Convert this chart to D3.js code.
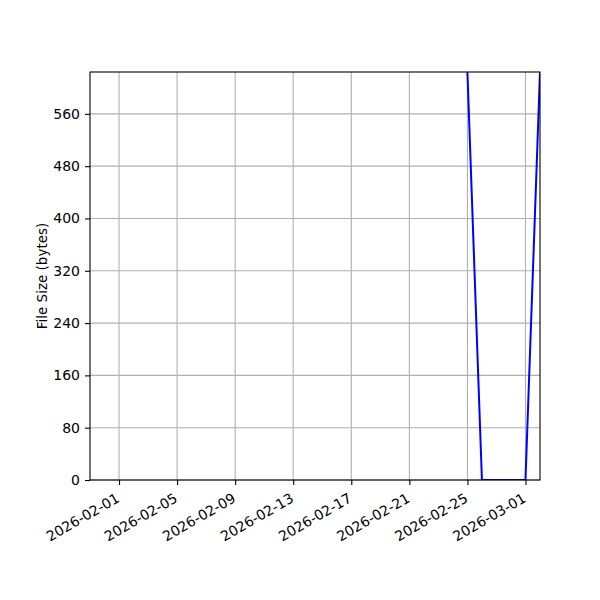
<!DOCTYPE html>
<html>
<head>
<meta charset="utf-8">
<script src="https://cdn.jsdelivr.net/npm/d3@7"></script>
<style>
body { margin: 0; background: #fff; }
svg { font-family: 'DejaVu Sans', sans-serif; }
</style>
</head>
<body>
<script>
// data
const dates = ['2026-02-25', '2026-02-26', '2026-02-27', '2026-02-28', '2026-03-01', '2026-03-02'];
const sizes = [624, 0, 0, 0, 0, 624];
const xTicks = ['2026-02-01', '2026-02-05', '2026-02-09', '2026-02-13', '2026-02-17', '2026-02-21', '2026-02-25', '2026-03-01'];
const yTicks = [0, 80, 160, 240, 320, 400, 480, 560];

const parse = d3.utcParse('%Y-%m-%d');
const m = {top: 72, right: 60, bottom: 120, left: 90};
const W = 600, H = 600;
const w = W - m.left - m.right, h = H - m.top - m.bottom;

const svg = d3.select('body').append('svg')
  .attr('width', W).attr('height', H);

const x = d3.scaleUtc()
  .domain([parse('2026-01-30'), parse('2026-03-02')])
  .range([0, w]);
const y = d3.scaleLinear().domain([0, 624]).range([h, 0]);

const g = svg.append('g').attr('transform', 'translate(' + m.left + ',' + m.top + ')');

// grid
g.append('g').selectAll('line').data(xTicks).enter().append('line')
  .attr('x1', d => x(parse(d))).attr('x2', d => x(parse(d)))
  .attr('y1', 0).attr('y2', h)
  .style('stroke', '#b0b0b0').style('stroke-width', 1.1);
g.append('g').selectAll('line').data(yTicks).enter().append('line')
  .attr('y1', d => y(d)).attr('y2', d => y(d))
  .attr('x1', 0).attr('x2', w)
  .style('stroke', '#b0b0b0').style('stroke-width', 1.1);

g.append('clipPath').attr('id', 'clip').append('rect')
  .attr('width', w).attr('height', h);

const line = d3.line()
  .x((d, i) => x(parse(dates[i])))
  .y(d => y(d));

g.append('path')
  .datum(sizes)
  .attr('clip-path', 'url(#clip)')
  .attr('d', line)
  .style('fill', 'none')
  .style('stroke', '#0000ff')
  .style('stroke-width', 2);

// axes
const xAxis = g.append('g')
  .attr('transform', 'translate(0,' + h + ')')
  .call(d3.axisBottom(x).tickValues(xTicks.map(parse)).tickFormat(d3.utcFormat('%Y-%m-%d')).tickSize(5).tickPadding(3));
xAxis.selectAll('text')
  .style('font-size', '14px')
  .style('text-anchor', 'end')
  .attr('y', 0)
  .attr('dy', '0')
  .attr('transform', 'translate(1,21) rotate(-30)');

const yAxis = g.append('g')
  .call(d3.axisLeft(y).tickValues(yTicks).tickSize(5).tickPadding(5));
yAxis.selectAll('text').style('font-size', '14px');

g.selectAll('.domain').remove();
g.selectAll('.tick line').style('stroke', '#000').style('stroke-width', 1.1);
g.selectAll('.tick text').style('fill', '#000').style('font-family', 'DejaVu Sans, sans-serif');

g.append('rect')
  .attr('width', w).attr('height', h)
  .style('fill', 'none').style('stroke', '#000').style('stroke-width', 1.1);

svg.append('text')
  .attr('transform', 'translate(47,' + (m.top + h / 2) + ') rotate(-90)')
  .attr('text-anchor', 'middle')
  .style('font-size', '13.5px')
  .text('File Size (bytes)');
</script>
</body>
</html>
